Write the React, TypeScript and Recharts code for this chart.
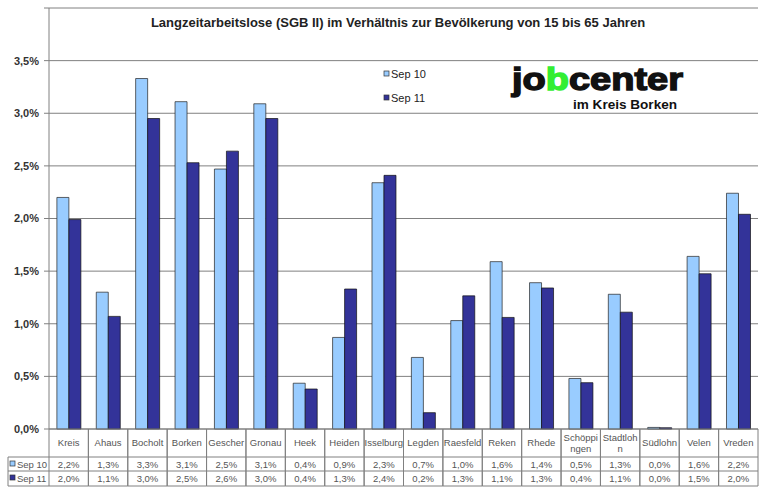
import React from 'react';
import { BarChart, Bar, XAxis, YAxis, CartesianGrid, Customized } from 'recharts';

const categories = ['Kreis', 'Ahaus', 'Bocholt', 'Borken', 'Gescher', 'Gronau', 'Heek', 'Heiden', 'Isselburg', 'Legden', 'Raesfeld', 'Reken', 'Rhede', 'Schöppingen', 'Stadtlohn', 'Südlohn', 'Velen', 'Vreden'];
const categoryLabelLines: string[][] = [['Kreis'], ['Ahaus'], ['Bocholt'], ['Borken'], ['Gescher'], ['Gronau'], ['Heek'], ['Heiden'], ['Isselburg'], ['Legden'], ['Raesfeld'], ['Reken'], ['Rhede'], ['Schöppi', 'ngen'], ['Stadtloh', 'n'], ['Südlohn'], ['Velen'], ['Vreden']];
const sep10 = [2.20, 1.30, 3.33, 3.11, 2.47, 3.09, 0.435, 0.87, 2.34, 0.68, 1.03, 1.59, 1.39, 0.48, 1.28, 0.015, 1.64, 2.24];
const sep11 = [1.99, 1.07, 2.95, 2.53, 2.64, 2.95, 0.38, 1.33, 2.41, 0.155, 1.265, 1.06, 1.34, 0.44, 1.11, 0.012, 1.475, 2.04];
const sep10Labels = ['2,2%', '1,3%', '3,3%', '3,1%', '2,5%', '3,1%', '0,4%', '0,9%', '2,3%', '0,7%', '1,0%', '1,6%', '1,4%', '0,5%', '1,3%', '0,0%', '1,6%', '2,2%'];
const sep11Labels = ['2,0%', '1,1%', '3,0%', '2,5%', '2,6%', '3,0%', '0,4%', '1,3%', '2,4%', '0,2%', '1,3%', '1,1%', '1,3%', '0,4%', '1,1%', '0,0%', '1,5%', '2,0%'];
const seriesNames = ['Sep 10', 'Sep 11'];
const yTicks = [0, 0.5, 1, 1.5, 2, 2.5, 3, 3.5, 4];
const title = 'Langzeitarbeitslose (SGB II) im Verhältnis zur Bevölkerung von 15 bis 65 Jahren';

const data = categories.map((c, i) => ({ name: c, s10: sep10[i], s11: sep11[i] }));

const FONT = '"Liberation Sans", Arial, sans-serif';
const GRID = '#808080';
const C10 = '#99CCFF';
const C11 = '#333399';

const TableTick = (props: any) => {
  const { x, y, index, width, visibleTicksCount } = props;
  const w = width && visibleTicksCount ? width / visibleTicksCount : 39.4;
  const l = x - w / 2;
  const r = x + w / 2;
  const lines = categoryLabelLines[index] || [categories[index]];
  return (
    <g>
      <line x1={l} x2={l} y1={y} y2={y + 57} stroke={GRID} />
      <line x1={r} x2={r} y1={y} y2={y + 57} stroke={GRID} />
      <line x1={l} x2={r} y1={y + 28} y2={y + 28} stroke={GRID} />
      <line x1={l} x2={r} y1={y + 42} y2={y + 42} stroke={GRID} />
      <line x1={l} x2={r} y1={y + 57} y2={y + 57} stroke={GRID} />
      {lines.length === 1 ? (
        <text x={x} y={y + 17} textAnchor="middle" fontSize={9.5} fill="#555" fontFamily={FONT}>{lines[0]}</text>
      ) : (
        <text x={x} textAnchor="middle" fontSize={9.5} fill="#555" fontFamily={FONT}>
          <tspan x={x} y={y + 12}>{lines[0]}</tspan>
          <tspan x={x} y={y + 23}>{lines[1]}</tspan>
        </text>
      )}
      <text x={x} y={y + 39} textAnchor="middle" fontSize={9.5} fill="#555" fontFamily={FONT}>{sep10Labels[index]}</text>
      <text x={x} y={y + 53} textAnchor="middle" fontSize={9.5} fill="#555" fontFamily={FONT}>{sep11Labels[index]}</text>
    </g>
  );
};

const Decorations = () => (
  <g>
    <text x={398} y={27} textAnchor="middle" fontSize={13} fontWeight="bold" fill="#222" fontFamily={FONT}>{title}</text>
    {/* legend */}
    <rect x={384} y={71} width={5} height={5} fill={C10} stroke="#333" strokeWidth={0.7} />
    <text x={391} y={78} fontSize={11} fill="#222" fontFamily={FONT}>{seriesNames[0]}</text>
    <rect x={384} y={95} width={5} height={5} fill={C11} stroke="#333" strokeWidth={0.7} />
    <text x={391} y={102} fontSize={11} fill="#222" fontFamily={FONT}>{seriesNames[1]}</text>
    {/* table legend column */}
    <line x1={8} x2={49} y1={457} y2={457} stroke={GRID} />
    <line x1={8} x2={49} y1={471} y2={471} stroke={GRID} />
    <line x1={8} x2={49} y1={486} y2={486} stroke={GRID} />
    <line x1={8} x2={8} y1={457} y2={486} stroke={GRID} />
    <rect x={10} y={461} width={5} height={5} fill={C10} stroke="#333" strokeWidth={0.7} />
    <text x={17} y={468} fontSize={9.5} fill="#555" fontFamily={FONT}>{seriesNames[0]}</text>
    <rect x={10} y={475} width={5} height={5} fill={C11} stroke="#333" strokeWidth={0.7} />
    <text x={17} y={482} fontSize={9.5} fill="#555" fontFamily={FONT}>{seriesNames[1]}</text>
    {/* logo */}
    <text x={512} y={90} fontSize={32} fontWeight="bold" fontFamily={FONT} textLength={171} lengthAdjust="spacingAndGlyphs" stroke="#111" strokeWidth={1.4}>
      <tspan fill="#111">jo</tspan><tspan fill="#33EE33" stroke="#33EE33">b</tspan><tspan fill="#111">center</tspan>
    </text>
    <text x={573} y={108.5} fontSize={12.5} fontWeight="bold" fill="#111" fontFamily={FONT} textLength={104} lengthAdjust="spacingAndGlyphs">im Kreis Borken</text>
  </g>
);

export default function App() {
  return (
    <div style={{ position: 'absolute', left: 0, top: 0, width: 768, height: 502, background: '#fff' }}>
      <BarChart width={768} height={502} data={data} margin={{ top: 8, right: 10, bottom: 0, left: 0 }} barCategoryGap="20%" barGap={0}>
        <CartesianGrid vertical={false} stroke={GRID} horizontalValues={yTicks} />
        <YAxis
          width={49}
          domain={[0, 4]}
          ticks={yTicks}
          interval={0}
          tickFormatter={(v: number) => (v >= 4 ? '' : v.toFixed(1).replace('.', ',') + '%')}
          tick={{ fontSize: 11, fontWeight: 'bold', fill: '#333', fontFamily: FONT }}
          tickSize={5}
          tickMargin={5}
          stroke={GRID}
          axisLine={{ stroke: GRID }}
          tickLine={{ stroke: GRID }}
        />
        <XAxis
          dataKey="name"
          height={73}
          interval={0}
          tickLine={false}
          tickSize={0}
          tickMargin={0}
          axisLine={{ stroke: GRID }}
          tick={<TableTick />}
        />
        <Bar dataKey="s10" name={seriesNames[0]} fill={C10} stroke="#222" strokeWidth={0.7} isAnimationActive={false} />
        <Bar dataKey="s11" name={seriesNames[1]} fill={C11} stroke="#111" strokeWidth={0.7} isAnimationActive={false} />
        <Customized component={Decorations} />
      </BarChart>
    </div>
  );
}
